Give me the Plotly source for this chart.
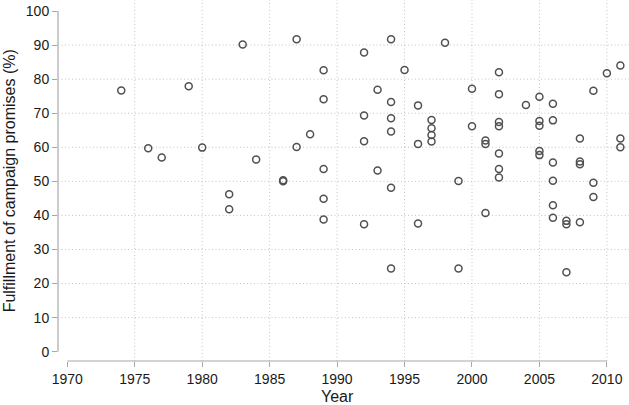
import plotly.graph_objects as go

years = [1974, 1976, 1977, 1979, 1980, 1982, 1982, 1983, 1984, 1986, 1986,
         1987, 1987, 1988, 1989, 1989, 1989, 1989, 1989,
         1992, 1992, 1992, 1992, 1993, 1993,
         1994, 1994, 1994, 1994, 1994, 1994, 1995,
         1996, 1996, 1996, 1997, 1997, 1997, 1997, 1998,
         1999, 1999, 2000, 2000, 2001, 2001, 2001,
         2002, 2002, 2002, 2002, 2002, 2002, 2002, 2004,
         2005, 2005, 2005, 2005, 2005,
         2006, 2006, 2006, 2006, 2006, 2006,
         2007, 2007, 2007, 2008, 2008, 2008, 2008,
         2009, 2009, 2009, 2010, 2011, 2011, 2011]
fulfillment = [76.7, 59.7, 57.0, 77.9, 59.9, 46.2, 41.8, 90.2, 56.4, 50.3, 50.0,
               91.7, 60.1, 63.8, 82.6, 74.1, 53.6, 44.9, 38.8,
               87.8, 69.3, 61.8, 37.4, 76.9, 53.2,
               91.7, 73.3, 68.5, 64.6, 48.1, 24.4, 82.7,
               72.3, 61.0, 37.6, 68.0, 65.6, 63.6, 61.7, 90.7,
               50.1, 24.4, 77.2, 66.2, 62.0, 61.0, 40.7,
               82.0, 75.6, 67.4, 66.2, 58.2, 53.6, 51.1, 72.4,
               74.8, 67.7, 66.3, 58.9, 57.7,
               72.8, 67.9, 55.5, 50.2, 43.0, 39.3,
               38.4, 37.4, 23.3, 62.6, 55.8, 55.0, 38.0,
               76.6, 49.6, 45.4, 81.7, 84.0, 62.6, 60.0]

x_ticks = [1970, 1975, 1980, 1985, 1990, 1995, 2000, 2005, 2010]
y_ticks = [0, 10, 20, 30, 40, 50, 60, 70, 80, 90, 100]

FONT = "Liberation Sans, Arial, Helvetica, sans-serif"
TXT = "#1a1a1a"
AX = "#a8a8a8"
GRID = "#c4c4c4"

fig = go.Figure()
fig.add_trace(go.Scatter(
    x=years, y=fulfillment, mode="markers",
    marker=dict(symbol="circle-open", size=7, color="#505050",
                line=dict(width=1.5, color="#505050")),
    hoverinfo="x+y", showlegend=False))

shapes = []
for xv in x_ticks[1:]:
    shapes.append(dict(type="line", xref="x", yref="paper", x0=xv, x1=xv, y0=0, y1=1,
                       line=dict(color=GRID, width=1, dash="1px,2.5px"), layer="below"))
for yv in y_ticks[1:-1]:
    shapes.append(dict(type="line", xref="paper", yref="y", x0=0, x1=1, y0=yv, y1=yv,
                       line=dict(color=GRID, width=1, dash="1px,2.5px"), layer="below"))
# R-style axis lines spanning tick range only
shapes.append(dict(type="line", xref="paper", yref="y", x0=0, x1=0, y0=y_ticks[0], y1=y_ticks[-1],
                   line=dict(color=AX, width=1.2)))
shapes.append(dict(type="line", xref="x", yref="paper", x0=x_ticks[0], x1=x_ticks[-1], y0=0, y1=0,
                   line=dict(color=AX, width=1.2)))

fig.update_layout(
    width=629, height=405,
    margin=dict(l=58, r=0, t=0, b=44),
    paper_bgcolor="white", plot_bgcolor="white",
    font=dict(family=FONT, color=TXT, size=14),
    shapes=shapes,
    xaxis=dict(range=[1969.31, 2011.64], tickvals=x_ticks, ticktext=[str(v) for v in x_ticks],
               showgrid=False, zeroline=False, showline=False,
               ticks="outside", ticklen=5, tickcolor=AX, tickwidth=1.2,
               tickfont=dict(size=14, color=TXT, family=FONT)),
    yaxis=dict(range=[-2.73, 103.23], tickvals=y_ticks, ticktext=[str(v) for v in y_ticks],
               showgrid=False, zeroline=False, showline=False,
               ticks="outside", ticklen=5, tickcolor=AX, tickwidth=1.2,
               tickfont=dict(size=14, color=TXT, family=FONT)),
    annotations=[
        dict(text="Year", xref="x", yref="paper", x=1990, y=-0.0997,
             xanchor="center", yanchor="middle", showarrow=False,
             font=dict(size=16, color=TXT, family=FONT)),
        dict(text="Fulfillment of campaign promises (%)", xref="paper", yref="y",
             x=-0.0858, y=50, xanchor="center", yanchor="middle", textangle=-90,
             showarrow=False, font=dict(size=16, color=TXT, family=FONT)),
    ],
)

fig.write_html("out.html")
